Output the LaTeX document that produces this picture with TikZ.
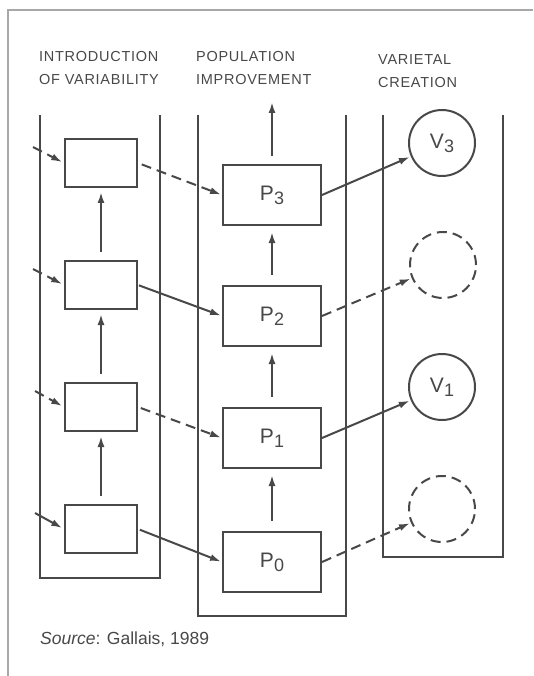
\documentclass[tikz,border=0pt]{standalone}
\usepackage{fontspec}
\setmainfont{Liberation Sans}
\newfontfamily\hdrfont[LetterSpace=5]{Liberation Sans}
\usetikzlibrary{arrows.meta}
\definecolor{ink}{HTML}{484848}
\definecolor{frame}{HTML}{A8A8A8}
\newcommand{\lbl}[2]{#1\raisebox{-4pt}{\fontsize{18}{18}\selectfont #2}}
\tikzset{
  ln/.style={draw=ink, line width=2pt},
  dsh/.style={ln, dash pattern=on 10pt off 6pt},
  arr/.style={ln, -{Latex[length=11pt,width=7pt]}},
  darr/.style={dsh, -{Latex[length=11pt,width=7pt]}},
  vbox/.style={ln, minimum width=72pt, minimum height=48pt, inner sep=0pt},
  pbox/.style={ln, minimum width=98pt, minimum height=60pt, inner sep=0pt, font=\fontsize{21}{22}\selectfont, text=ink},
  vcirc/.style={ln, circle, minimum size=66pt, inner sep=0pt, font=\fontsize{21}{22}\selectfont, text=ink},
  dcirc/.style={vcirc, dash pattern=on 10pt off 6pt},
  hdr/.style={anchor=north west, align=left, font=\hdrfont\fontsize{14.5}{23}\selectfont, text=ink, inner sep=0pt}
}
\begin{document}
\begin{tikzpicture}[x=1pt,y=-1pt]
\useasboundingbox (0,0) rectangle (533,676);
% outer frame (top and left)
\draw[frame, line width=1.2pt] (533,10) -- (8,10) -- (8,676);
% headers
\node[hdr] (h1) at (39,51) {INTRODUCTION\\OF VARIABILITY};
\node[hdr] (h2) at (196,51) {POPULATION\\IMPROVEMENT};
\node[hdr] (h3) at (378,54) {VARIETAL\\CREATION};
% columns
\draw[ln] (40,115) -- (40,578) -- (160,578) -- (160,115);
\draw[ln] (198,115) -- (198,616) -- (346,616) -- (346,115);
\draw[ln] (383,115) -- (383,557) -- (503,557) -- (503,115);
% left boxes
\node[vbox] (a3) at (101,163) {};
\node[vbox] (a2) at (101,285) {};
\node[vbox] (a1) at (101,407) {};
\node[vbox] (a0) at (101,529) {};
% P boxes
\node[pbox] (p3) at (272,195) {\lbl{P}{3}};
\node[pbox] (p2) at (272,316) {\lbl{P}{2}};
\node[pbox] (p1) at (272,438) {\lbl{P}{1}};
\node[pbox] (p0) at (272,562) {\lbl{P}{0}};
% circles
\node[vcirc] (v3) at (442,143) {\lbl{V}{3}};
\node[dcirc] (v2) at (443,265) {};
\node[vcirc] (v1) at (442,387) {\lbl{V}{1}};
\node[dcirc] (v0) at (442,509) {};
% free ends of incoming arrows
\coordinate (i3) at (33,147);
\coordinate (i2) at (33,269);
\coordinate (i1) at (35,391);
\coordinate (i0) at (35,513);
\coordinate (top) at (272,102);
% incoming arrows
\draw[darr, shorten >=2pt] (i3) -- (a3.west);
\draw[darr, shorten >=2pt] (i2) -- (a2.west);
\draw[darr, shorten >=2pt] (i1) -- (a1.west);
\draw[arr, shorten >=2pt] (i0) -- (a0.west);
% vertical arrows left column
\draw[arr, shorten <=8pt, shorten >=4pt] (a0.north) -- (a1.south);
\draw[arr, shorten <=8pt, shorten >=4pt] (a1.north) -- (a2.south);
\draw[arr, shorten <=8pt, shorten >=4pt] (a2.north) -- (a3.south);
% vertical arrows P column
\draw[arr, shorten <=10pt, shorten >=6pt] (p0.north) -- (p1.south);
\draw[arr, shorten <=10pt, shorten >=6pt] (p1.north) -- (p2.south);
\draw[arr, shorten <=10pt, shorten >=6pt] (p2.north) -- (p3.south);
\draw[arr, shorten <=8pt] (p3.north) -- (top);
% left boxes to P boxes
\draw[darr, shorten <=4pt, shorten >=1pt] (a3.east) -- (p3.west);
\draw[arr, shorten <=1pt, shorten >=1pt] (a2.east) -- (p2.west);
\draw[darr, shorten <=3pt, shorten >=1pt] (a1.east) -- (p1.west);
\draw[arr, shorten <=2pt, shorten >=1pt] (a0.east) -- (p0.west);
% P boxes to circles
\draw[arr, shorten >=1pt] (p3.east) -- (v3);
\draw[darr, shorten >=1pt] (p2.east) -- (v2);
\draw[arr, shorten >=1pt] (p1.east) -- (v1);
\draw[darr, shorten >=1pt] (p0.east) -- (v0);
% source
\node[anchor=west, inner sep=0pt, font=\fontsize{17.5}{20}\selectfont, text=ink] (src) at (40,639) {\textit{Source}: Gallais, 1989};
\end{tikzpicture}
\end{document}
